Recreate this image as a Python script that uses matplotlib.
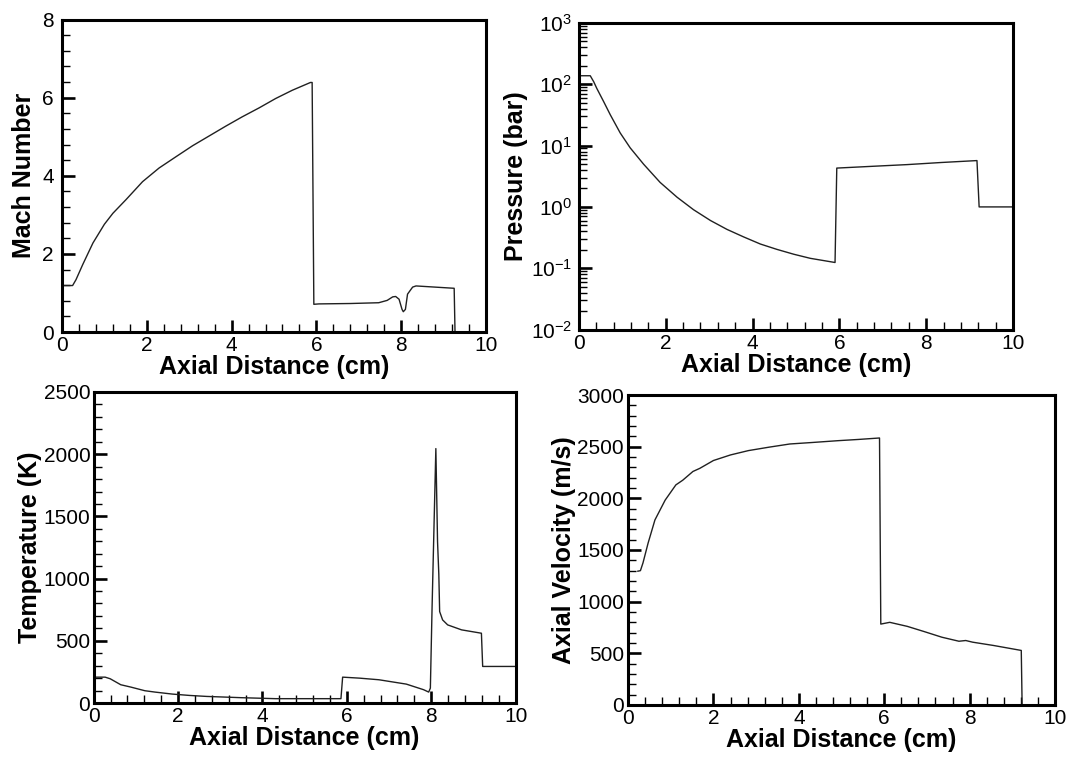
import matplotlib
matplotlib.use("Agg")
import matplotlib.pyplot as plt
from matplotlib.ticker import MultipleLocator, LogLocator, NullFormatter

plt.rcParams['font.family'] = ['Liberation Sans', 'DejaVu Sans']
plt.rcParams['mathtext.fontset'] = 'custom'
plt.rcParams['mathtext.rm'] = 'Liberation Sans'
plt.rcParams['mathtext.default'] = 'regular'

# ---- data ----
mach_x = [0.05, 0.25, 0.33, 0.49, 0.73, 1.0, 1.2, 1.51, 1.9, 2.29, 2.69, 3.08, 3.47, 3.86, 4.25, 4.65,
          5.04, 5.43, 5.86, 5.9, 5.94, 6.06, 6.8, 7.47, 7.67, 7.8, 7.87, 7.95, 8.02, 8.05, 8.1, 8.15, 8.27,
          8.35, 9.25, 9.27]
mach_y = [1.19, 1.19, 1.34, 1.73, 2.28, 2.76, 3.04, 3.39, 3.85, 4.2, 4.49, 4.77, 5.02, 5.27, 5.51, 5.74,
          5.98, 6.19, 6.39, 6.39, 0.71, 0.72, 0.73, 0.75, 0.81, 0.9, 0.91, 0.84, 0.58, 0.52, 0.58, 0.97, 1.15,
          1.18, 1.12, 0.0]

pres_x = [0.03, 0.26, 0.34, 0.41, 0.57, 0.72, 0.95, 1.18, 1.49, 1.87, 2.26, 2.64, 3.03, 3.41, 3.79, 4.18,
          4.56, 4.95, 5.33, 5.9, 5.94, 6.77, 7.56, 8.34, 9.17, 9.22, 10.0]
pres_y = [138, 138, 110, 86, 52, 32, 16.1, 9.2, 4.97, 2.51, 1.44, 0.90, 0.60, 0.43, 0.325, 0.248,
          0.203, 0.169, 0.145, 0.124, 4.3, 4.6, 4.9, 5.3, 5.7, 1.0, 1.0]

temp_x = [0.02, 0.27, 0.39, 0.64, 0.88, 1.21, 1.45, 1.86, 2.27, 2.68, 3.09, 3.49, 4.31, 5.86, 5.9, 6.3,
          6.76, 7.41, 7.82, 7.94, 7.98, 8.02, 8.08, 8.11, 8.15, 8.18, 8.2, 8.27, 8.39, 8.72, 9.19, 9.22, 10.0]
temp_y = [208, 208, 195, 147, 128, 99, 88, 72, 61, 53, 48, 43, 35, 35, 208, 200,
          187, 152, 107, 88, 120, 762, 1618, 2045, 1297, 1037, 735, 668, 628, 588, 561, 294, 294]

vel_x = [0.23, 0.29, 0.35, 0.47, 0.63, 0.87, 1.12, 1.28, 1.52, 1.68, 2.0, 2.4, 2.82, 3.3, 3.79, 4.3,
         4.92, 5.4, 5.89, 5.92, 6.13, 6.54, 6.94, 7.35, 7.75, 7.91, 8.07, 8.56, 9.21, 9.23]
vel_y = [1295, 1300, 1375, 1567, 1791, 1983, 2130, 2175, 2260, 2290, 2366, 2420, 2462, 2495, 2526, 2540,
         2558, 2570, 2584, 783, 800, 761, 710, 656, 617, 624, 608, 576, 528, 0]

xlabel = "Axial Distance (cm)"
ylabels = ["Mach Number", "Pressure (bar)", "Temperature (K)", "Axial Velocity (m/s)"]

fig = plt.figure(figsize=(10.69, 7.57), dpi=100)
rects = [
    [0.0580, 0.5614, 0.3966, 0.4127],
    [0.5416, 0.5647, 0.4060, 0.4049],
    [0.0877, 0.0713, 0.3946, 0.4109],
    [0.5875, 0.0687, 0.3994, 0.4095],
]
axes = [fig.add_axes(r) for r in rects]

LC = '#202020'
LABEL_FS = 18
TICK_FS = 15

def style(ax, ypad):
    for s in ax.spines.values():
        s.set_linewidth(2.2)
        s.set_color('black')
    ax.tick_params(which='both', direction='in', top=False, right=False, labelsize=TICK_FS)
    ax.tick_params(which='major', length=9, width=1.9)
    ax.tick_params(which='minor', length=5.5, width=1.0)
    ax.tick_params(axis='x', which='both', pad=3)
    ax.tick_params(axis='y', which='both', pad=ypad)
    ax.set_xlim(0, 10)
    ax.xaxis.set_major_locator(MultipleLocator(2))
    ax.xaxis.set_minor_locator(MultipleLocator(0.4))
    ax.set_xlabel(xlabel, fontsize=LABEL_FS, fontweight='bold', labelpad=0)

# Mach
ax = axes[0]
ax.plot(mach_x, mach_y, color=LC, lw=1.0)
style(ax, 6)
ax.set_ylim(0, 8)
ax.yaxis.set_major_locator(MultipleLocator(2))
ax.yaxis.set_minor_locator(MultipleLocator(0.4))
ax.set_ylabel(ylabels[0], fontsize=LABEL_FS, fontweight='bold', labelpad=4)

# Pressure
ax = axes[1]
ax.plot(pres_x, pres_y, color=LC, lw=1.0)
style(ax, 5)
ax.set_yscale('log')
ax.set_ylim(1e-2, 1e3)
ax.yaxis.set_major_locator(LogLocator(base=10, numticks=10))
ax.yaxis.set_minor_locator(LogLocator(base=10, subs=range(2, 10), numticks=20))
ax.yaxis.set_minor_formatter(NullFormatter())
ax.set_ylabel(ylabels[1], fontsize=LABEL_FS, fontweight='bold', labelpad=2)

# Temperature
ax = axes[2]
ax.plot(temp_x, temp_y, color=LC, lw=1.0)
style(ax, 2.5)
ax.set_ylim(0, 2500)
ax.yaxis.set_major_locator(MultipleLocator(500))
ax.yaxis.set_minor_locator(MultipleLocator(100))
ax.set_ylabel(ylabels[2], fontsize=LABEL_FS, fontweight='bold', labelpad=1)

# Velocity
ax = axes[3]
ax.plot(vel_x, vel_y, color=LC, lw=1.0)
style(ax, 3)
ax.set_ylim(0, 3000)
ax.yaxis.set_major_locator(MultipleLocator(500))
ax.yaxis.set_minor_locator(MultipleLocator(100))
ax.set_ylabel(ylabels[3], fontsize=LABEL_FS, fontweight='bold', labelpad=1)

fig.savefig("out.png", dpi=100)
